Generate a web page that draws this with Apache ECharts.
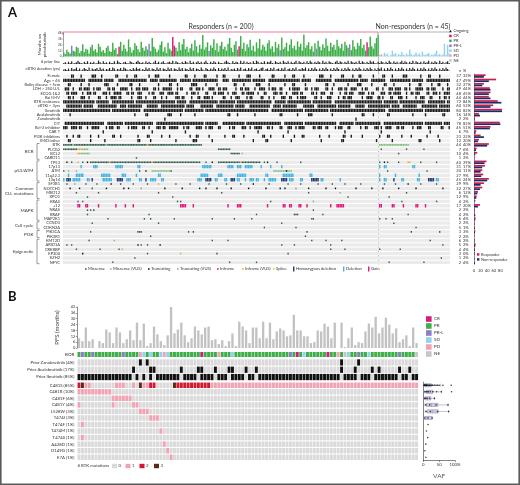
<!DOCTYPE html>
<html>
<head>
<meta charset="utf-8">
<script src="https://cdn.jsdelivr.net/npm/echarts@6.0.0/dist/echarts.min.js"></script>
<style>
  html, body { margin: 0; padding: 0; background: #fff; }
  #chart { width: 520px; height: 485px; }
</style>
</head>
<body>
<div id="chart"></div>
<script>
const FONT = 'Lato, "Open Sans", sans-serif'
const TXT = '#333'

// ---------- panel A data ----------
const N_A = 245
const N_RESP = 200
const colsA = Array.from({ length: N_A }, (_, i) => String(i))

// months on pirtobrutinib (responders first, then non-responders)
const monthsResp = [
  8, 5, 14, 9, 6, 22, 12, 10, 20, 18, 7, 11, 25, 9, 16, 14, 6, 19, 24, 12,
  15, 8, 26, 20, 10, 13, 7, 18, 22, 11, 9, 28, 14, 17, 5, 20, 30, 12, 24, 16,
  10, 35, 19, 8, 13, 27, 22, 15, 9, 30, 18, 12, 21, 14, 26, 11, 38, 20, 16, 9,
  14, 24, 31, 10, 19, 7, 28, 16, 12, 40, 22, 18, 11, 29, 13, 25, 36, 15, 20, 9,
  17, 26, 12, 33, 21, 8, 24, 16, 44, 14, 19, 29, 11, 23, 18, 35, 13, 27, 10, 22,
  30, 15, 20, 12, 26, 38, 18, 9, 24, 31, 14, 21, 42, 16, 28, 11, 25, 19, 34, 13,
  22, 10, 29, 17, 36, 14, 24, 20, 12, 27, 33, 16, 21, 9, 30, 18, 25, 13, 39, 15,
  19, 28, 11, 24, 35, 17, 22, 14, 31, 20, 26, 12, 45, 18, 23, 29, 15, 21, 10, 27,
  16, 32, 20, 13, 25, 18, 37, 22, 11, 28, 19, 24, 14, 34, 21, 17, 26, 12, 30, 23,
  18, 25, 13, 33, 20, 15, 28, 22, 36, 17, 24, 12, 29, 19, 41, 21, 16, 27, 38, 44
]
const monthsNonResp = [
  3, 5, 2, 8, 4, 6, 1, 3, 12, 4, 7, 2, 5, 3, 9, 4, 2, 6, 3, 14,
  5, 2, 4, 8, 3, 6, 2, 10, 4, 3, 5, 7, 2, 4, 3, 6, 12, 3, 5, 2, 4, 26, 3, 24, 6
]
// best overall response exceptions (default: PR for responders, SD for non-responders)
const borA_CR = [35, 69, 70, 111, 192]
const borA_PRL = [5, 54, 92, 137, 160, 181]
const borA_PD = [201, 216, 240]
const borA_NE = [228]

// # prior lines and cBTKi duration, one digit per patient
const priorLinesA = '23142512363214251324126315231422516321342153214632' +
  '31524213624135213426153214253162413524136214253142' +
  '21463215243162514231526413251436215324163251423615' +
  '32415263142531624153214625314261532416253142635214' +
  '25314263152413625314261532415236142531624135213426'
const cbtkiYearsA = '34251634725136427153462735143627514362753142637451' +
  '42736154273615427361542736154273615427316425374162' +
  '53627143526371452637145236714526371452637145263714' +
  '36471526374152637415263741526374152637415263741526' +
  '47152637415263741526374152637415263741526374152637'

const clinRows = ['Female', 'Age > 65', 'Bulky disease > 5cm', 'LDH > 250 U/L', 'ECOG 1&2', 'Rai III-IV',
  'BTK resistance', 'cBTKi > 3yrs', 'Ibrutinib', 'Acalabrutinib', 'Zanubrutinib', 'CIT',
  'Bcl-2 inhibitor', 'CAR T', 'PI3K inhibitors', 'IMiD/other']
// alternating run lengths: gap, mark, gap, mark ...
const clinRuns = [
  '5,2,4,1,6,3,3,1,8,2,5,1,4,2,7,1,3,3,6,1,9,2,4,1,5,2,6,1,3,2,8,1,4,3,5,1,7,2,6,1,4,2,5,1,9,3,4,1,6,2,5,1,3,2,7,1,5,2,4,1,6,3,8,1,4,2,5,1,7,2',
  '0,14,2,9,1,6,3,18,2,5,1,11,2,7,1,16,3,4,2,12,1,8,2,20,1,6,3,10,2,15,1,5,2,9,3,13,1,7,2,17,1,4,2,11,3,8',
  '3,2,6,1,4,1,9,3,5,1,7,2,4,1,11,1,6,2,3,1,8,4,5,1,6,1,10,2,4,1,7,3,5,1,9,1,4,2,6,1,12,2,3,1,8,1,5,3,6,1,7,2,4,1,9,1,5,2,6,1,3,2,4,1',
  '1,3,2,1,3,2,1,4,2,1,1,3,4,2,1,2,3,5,2,1,2,3,1,4,3,2,1,1,2,6,3,1,1,2,4,2,2,3,1,1,3,4,2,2,1,3,5,1,2,2,1,3,3,1,2,4,2,1,1,3,2,2,4,1,1,5,3,2,2,1,1,3,4,2,2,1,3,3,1,2,2,4,3,1,1,2,5,2,2,1,3,3,1,4,2,2,1,1,3,5,2,2,1,3,4,1,2,2,3,2',
  '2,2,1,4,3,1,2,3,1,2,4,3,1,1,2,5,3,2,1,2,2,3,4,1,1,2,3,3,2,4,1,2,5,1,2,3,1,1,4,2,3,2,1,4,2,1,2,3,3,2,1,5,2,1,3,2,4,3,1,2,2,1,3,4,1,2,5,2,1,1,2,3,3,2,4,1,2,2,1,3,3,4,2,1,1,2,4,3,2,2,1,5,3,1,2,2,1,3,4,2,2,3,1,1,2,4,3,2',
  '3,2,1,1,4,3,2,1,5,2,3,1,2,4,1,2,6,1,3,3,2,1,4,2,3,1,2,1,5,3,1,2,4,1,3,2,2,4,1,1,6,2,3,1,2,3,4,1,1,2,5,2,3,1,2,1,4,3,2,2,3,1,1,4,5,2,2,1,3,3,4,1,2,2,1,3,6,1,2,4,3,2,1,1,4,2,3,3,2,1,5,1,2,3,3,2,4,1,2,2,1,4,3,1',
  '0,20,1,8,2,14,1,25,1,6,2,18,1,10,1,22,2,7,1,15,1,12,2,30,1,9,1,16,2,11,1,10',
  '2,10,1,6,3,12,2,4,1,9,3,7,2,15,1,5,4,8,2,11,1,6,3,13,2,5,1,9,4,7,2,12,1,8,3,6,2,14,1,5,2,9,3,10,1,8,2,6',
  '0,30,1,18,2,25,1,12,1,40,2,20,1,15,1,35,2,22,1,16,1,28',
  '4,1,40,1,6,2,12,3,5,1,8,1,20,2,4,1,10,1,15,2,9,1,6,3,12,1,18,2,5,1,8,2,14,1,7,1,10,2,6,1',
  '64,1,120,1,100',
  '1,25,2,10,1,18,2,30,1,8,3,14,1,22,2,12,1,20,2,9,1,16,2,25,1,11,1,15',
  '0,3,2,4,1,2,3,1,2,5,4,1,1,3,2,2,5,1,1,4,3,2,2,1,4,3,1,2,2,6,3,1,1,2,4,4,2,1,1,3,3,2,5,1,1,2,4,3,2,1,2,5,3,2,1,1,4,2,3,3,2,1,1,4,5,2,1,3,2,2,4,1,1,3,3,2,6,1,2,2,4,3,1,1,2,4,3,2,1,2,5,1,2,3,4,2,6,2,3,3',
  '25,1,30,1,20,1,45,1,18,1,35,1,22,1,30,1,20',
  '2,1,3,1,2,2,6,1,4,1,8,2,3,1,10,1,5,2,7,1,4,1,12,1,3,2,6,1,9,1,4,2,5,1,11,2,3,1,7,1,6,1,4,2,9,1,5,1,8,2,3,1,6,1,10,1,4,2,7,1,5,1,9,1,6,1,8',
  '3,2,12,1,8,1,20,2,6,1,15,1,10,3,9,1,25,1,7,2,14,1,18,1,12,2,20,1,9,1,16,2,11,1,8,1'
]

const geneRows = ['BTK', 'PLCG2', 'BCL2', 'CARD11', 'TP53', '17p13', 'ATM', '11q22.3', '13q14', 'SF3B1', 'NOTCH1',
  'MED12', 'XPO1', 'KRAS', '+12', 'NRAS', 'BRAF', 'MAP2K1', 'CCND3', 'CDKN2A', 'PIK3CA', 'PIK3R1',
  'KMT2D', 'ARID1A', 'CREBBP', 'EP300', 'EZH2', 'NFYC']
// events: start:length:type  (m missense, v missense VUS, t truncating, u truncating VUS,
// i inframe, f inframe VUS, s splice, H homozygous deletion, D deletion, G gain)
const geneEvents = [
  '0:6:m 6:1:v 7:20:m 27:1:v 28:25:m 53:1:f 54:34:m 200:19:v',
  '0:9:m 9:4:f 13:3:v 98:8:m 201:1:m 217:1:m 228:1:m',
  '9:2:f 11:6:v 106:6:m 113:1:v 212:1:m',
  '46:1:m',
  '2:1:t 5:1:m 9:1:f 12:1:m 15:1:t 17:12:m 29:1:f 30:26:m 56:1:f 57:30:m 90:1:m 94:1:t 98:14:m 112:1:f 113:12:m 127:1:m 129:1:t 135:1:m 150:1:m 200:1:m 203:1:t 205:1:m 212:1:m 218:2:f 226:1:m 236:1:m',
  '11:1:D 19:3:D 33:5:D 47:2:D 88:6:D 104:4:D 110:3:D 115:5:D 125:1:D 131:1:D 138:1:D 200:1:D 203:2:D 221:2:D',
  '0:1:m 3:1:v 8:1:v 48:1:m 52:1:t 56:12:v 68:1:m 133:12:v 141:1:t 205:1:m 230:1:m',
  '3:1:D 8:5:D 24:6:D 37:3:D 46:1:D 60:2:D 87:5:D 98:3:D 110:6:D 128:2:D 139:7:D 156:2:D 200:1:D 210:1:D 225:1:D',
  '0:1:D 2:3:H 6:5:D 15:2:D 18:1:H 25:6:D 34:4:H 40:3:D 48:2:D 52:1:H 55:4:D 62:2:D 85:3:D 90:4:H 96:2:D 102:2:D 106:3:H 110:2:D 115:1:D 118:3:D 122:2:D 127:1:D 130:5:D 138:4:H 143:3:D 150:2:D 157:5:H 163:2:D 175:1:D 200:1:D 203:2:D 209:1:H 214:2:D 224:2:D 231:4:H 236:2:D',
  '2:1:m 7:1:u 14:1:m 21:1:m 30:1:t 36:1:m 44:1:m 53:1:m 60:1:f 71:1:m 80:1:m 92:1:m 103:1:m 112:1:m 120:1:t 130:1:m 142:1:m 150:1:m 161:1:m 170:1:m 178:1:m 188:1:m 203:1:m 210:1:m 218:1:t 226:1:m 236:1:m',
  '4:1:t 10:1:t 18:1:m 27:1:t 38:1:t 41:1:t 49:1:u 64:1:t 75:1:t 86:1:t 90:1:t 97:1:t 106:1:t 117:1:t 128:1:t 137:1:t 140:1:t 147:1:u 155:1:t 166:1:t 172:1:t 185:1:t 195:1:t 202:1:t 212:1:t 223:1:t 240:1:t',
  '8:1:m 22:1:m 60:1:m 100:1:m 155:1:m 175:1:u 217:1:m',
  '15:1:m 69:1:m 180:1:m 206:1:m',
  '9:1:m 12:1:m 72:1:m 74:1:m 131:1:m 158:1:u 214:1:m 236:1:m',
  '9:2:G 14:2:G 22:1:G 33:1:G 39:1:G 44:1:G 74:4:G 82:1:G 104:1:G 110:3:G 129:1:G 139:2:G 143:2:G 149:2:G 154:1:G 169:1:G 173:5:G 200:2:G 208:2:G 215:1:G 223:2:G 229:1:G',
  '15:1:m 17:1:m 19:1:m 158:1:m',
  '15:1:m 54:1:m 122:1:m 146:3:m 164:1:m 218:1:m',
  '28:1:m 51:1:m 55:1:m 70:1:m 94:1:m 108:1:m 119:1:m 157:2:m 200:1:m 204:1:m 208:1:m',
  '18:1:m 60:1:m 138:1:m 209:1:m',
  '127:1:m 147:1:m 223:1:m',
  '17:1:m 47:3:m 79:1:m 82:1:m 154:1:m 220:1:m 238:1:m',
  '55:1:m 153:1:m',
  '16:1:m 32:1:v 94:1:m 104:1:m 157:1:m 166:1:m 176:1:m 232:1:m',
  '2:1:m 5:1:m 47:1:t 49:1:m 53:1:m 61:1:t 138:1:m 146:1:m 169:1:m 240:1:m',
  '8:1:m 23:1:m 35:1:m 37:1:f 169:1:m 178:1:m 200:1:m 213:1:m',
  '12:1:t 53:1:m 74:1:f 97:1:m 142:1:m',
  '45:1:m 239:1:m',
  '31:1:m 105:1:m 122:1:m 206:1:m 228:1:m'
]

// n and % column, responder / non-responder percentages for the right bar chart
const clinN = ['37', '47', '32', '49', '48', '44', '72', '60', '80', '16', '2', '78', '45', '6', '23', '12']
const clinPct = ['32%', '49%', '27%', '44%', '45%', '44%', '84%', '52%', '82%', '14%', '2%', '82%', '51%', '7%', '22%', '20%']
const geneN = ['44', '7', '10', '1', '40', '31', '20', '27', '45', '29', '22', '6', '12', '4', '17', '2', '4', '6', '2', '5', '3', '2', '6', '5', '4', '3', '1', '2']
const genePct = ['40%', '6%', '4%', '2%', '29%', '17%', '11%', '9%', '24%', '9%', '27%', '12%', '9%', '2%', '20%', '2%', '2%', '4%', '2%', '1%', '3%', '2%', '2%', '2%', '4%', '0%', '2%', '4%']
const clinResp = [35, 67, 30, 48, 50, 45, 72, 58, 85, 15, 3, 78, 50, 7, 20, 15]
const clinNonResp = [30, 45, 25, 50, 45, 50, 83, 50, 85, 18, 2, 80, 48, 5, 30, 12]
const geneResp = [45, 8, 10, 2, 38, 33, 25, 28, 45, 30, 25, 12, 8, 4, 18, 3, 3, 5, 2, 2, 4, 2, 3, 5, 3, 3, 1, 2]
const geneNonResp = [40, 6, 4, 1, 32, 25, 20, 22, 40, 20, 18, 10, 7, 1, 12, 2, 4, 4, 2, 3, 3, 1, 2, 4, 3, 2, 2, 3]

// ---------- panel B data ----------
const N_B = 100
const colsB = Array.from({ length: N_B }, (_, i) => String(i))
const pfsMonths = [
  10, 7, 21, 7, 9, 0, 7, 5, 19, 16, 5, 21, 16, 5, 9, 18, 8, 26, 8, 25, 2, 5, 22, 14, 7, 3, 13, 45,
  15, 19, 26, 13, 6, 10, 22, 18, 14, 21, 22, 8, 9, 4, 8, 2, 7, 15, 2, 27, 22, 18, 5, 21, 21,
  10, 27, 10, 26, 9, 17, 20, 18, 12, 13, 34, 18, 18, 12, 12, 5, 6, 18, 17, 25, 22, 10, 26, 0,
  26, 1, 10, 21, 3, 6, 5, 17, 25, 21, 32, 15, 21, 31, 24, 15, 20, 6, 9, 13, 2, 21, 5
]
const borB_CR = [36, 64, 73]
const borB_PRL = [1, 4, 13, 62, 82, 94]
const borB_SD = [19, 21, 24, 26, 45, 66, 79, 85]
const borB_PD = [18, 25, 41, 76]
const borB_NE = [78, 99]

const priorRows = ['Prior Zanubrutinib (4%)', 'Prior Acalabrutinib (17%)', 'Prior Ibrutinib (85%)']
const priorZanu = [18, 20, 77, 82]
const priorAcala = [16, 21, 22, 30, 35, 36, 40, 44, 45, 49, 52, 77, 81, 86, 88, 94, 97]
const noPriorIbru = [16, 18, 20, 22, 30, 35, 40, 44, 49, 52, 77, 82, 86, 94, 97]

const mutRows = ['C481S (85%)', 'C481R (10%)', 'C481F (6%)', 'C481Y (4%)', 'L528W (3%)', 'T474I (3%)',
  'T474F (1%)', 'T474M (1%)', 'T474S (1%)', 'A428D (1%)', 'D149G (1%)', 'E7A (1%)']
const c481sAbsent = [4, 5, 6, 7, 8, 9, 10, 14, 15, 17, 23, 24, 25, 26, 27]
const twoMutCols = [0, 21, 22, 29, 30, 31, 32, 33, 34, 35, 36, 37, 38]
const threeMutCols = [1, 18, 28]
const otherMutCols = [
  [0, 1, 2, 3, 4, 5, 6, 7, 8, 9],
  [10, 11, 12, 13, 14, 15],
  [0, 10, 16, 17],
  [18, 19, 20],
  [21, 22, 23],
  [1], [24], [1], [25], [26], [27]
]
// VAF boxes [min, q1, median, q3, max] and points, %
const vafBox = [[1, 4, 10, 25, 55], [4, 9, 16, 30, 57], [3, 6, 12, 24, 35], [5, 10, 26, 46, 78], [6, 12, 28, 47, 80], [3, 5, 12, 27, 28]]
const vafPoints = [
  [2, 3, 4, 5, 6, 7, 8, 9, 10, 12, 14, 15, 18, 20, 22, 25, 28, 30, 35, 40, 45, 50, 62, 88],
  [5, 9, 12, 16, 22, 30, 42, 57, 89],
  [4, 8, 12, 20, 35],
  [8, 20, 40, 78],
  [9, 22, 45, 80],
  [5, 15, 28],
  [15], [10], [14], [8], [5], [8]
]

// ---------- colours ----------
const borColor = { CR: '#d81b7a', PR: '#3daf48', 'PR-L': '#8c7dc6', SD: '#92d2ec', PD: '#f2a2b6', NE: '#c6c6c6' }
const mutTypes = ['m', 'v', 't', 'u', 'i', 'f', 's', 'H', 'D', 'G']
const mutColor = ['#2f5a48', '#78c07a', '#111111', '#9a9a9a', '#c2185b', '#f2a03d', '#f1c62a', '#1f3c78', '#45b3e0', '#e2157c']
const mutCellColor = ['#dadada', '#f2a3b3', '#d3172f', '#5b2a14']

// ---------- layout ----------
const A_LEFT = 63
const A_W = 387
const CLIN_TOP = 73.9
const CLIN_H = 16 * 4.3
const GENE_TOP = CLIN_TOP + CLIN_H
const GENE_PITCH = 4.35
const GENE_H = 28 * GENE_PITCH
const BAR_LEFT = 474
const BAR_W = 33
const B_LEFT = 77.3
const B_W = 341
const MUT_TOP = 382
const MUT_H = 78.5

function borOfA (i) {
  if (borA_CR.includes(i)) return 'CR'
  if (borA_PRL.includes(i)) return 'PR-L'
  if (borA_PD.includes(i)) return 'PD'
  if (borA_NE.includes(i)) return 'NE'
  return i < N_RESP ? 'PR' : 'SD'
}
function borOfB (i) {
  if (borB_CR.includes(i)) return 'CR'
  if (borB_PRL.includes(i)) return 'PR-L'
  if (borB_SD.includes(i)) return 'SD'
  if (borB_PD.includes(i)) return 'PD'
  if (borB_NE.includes(i)) return 'NE'
  return 'PR'
}
function runsToCols (runs) {
  const out = []
  let pos = 0
  let mark = false
  runs.split(',').map(Number).forEach(n => {
    if (mark) for (let k = 0; k < n; k++) if (pos + k < N_A) out.push(pos + k)
    pos += n
    mark = !mark
  })
  return out
}

// build series data
const monthsOnPirto = monthsResp.concat(monthsNonResp)
const topBars = monthsOnPirto.map((v, i) => ({ value: v, itemStyle: { color: borColor[borOfA(i)] } }))
const priorBars = priorLinesA.slice(0, N_A).split('').map(Number)
const durBars = cbtkiYearsA.slice(0, N_A).split('').map(Number)

const clinMarks = []
clinRuns.forEach((r, row) => runsToCols(r).forEach(c => clinMarks.push([c, row])))
const geneMarks = []
geneEvents.forEach((s, row) => {
  s.split(' ').forEach(ev => {
    const [st, len, t] = ev.split(':')
    for (let k = 0; k < Number(len); k++) {
      const c = Number(st) + k
      if (c < N_A) geneMarks.push([c, row, mutTypes.indexOf(t)])
    }
  })
})

const borBCells = colsB.map((_, i) => [i, 0, borOfB(i)])
const priorCells = []
for (let i = 0; i < N_B; i++) {
  priorCells.push([i, 0, priorZanu.includes(i) ? 1 : 0])
  priorCells.push([i, 1, priorAcala.includes(i) ? 1 : 0])
  priorCells.push([i, 2, noPriorIbru.includes(i) ? 0 : 1])
}
const mutCells = []
for (let i = 0; i < N_B; i++) {
  let c0 = 0
  if (!c481sAbsent.includes(i)) c0 = threeMutCols.includes(i) ? 3 : (twoMutCols.includes(i) ? 2 : 1)
  mutCells.push([i, 0, c0])
  otherMutCols.forEach((cols, r) => mutCells.push([i, r + 1, cols.includes(i) ? 1 : 0]))
}
const vafScatter = []
vafPoints.forEach((pts, r) => pts.forEach(v => vafScatter.push([v, r])))

// ---------- render helpers ----------
function laneRender (hFrac, fill) {
  return function (params, api) {
    const r = api.value(1)
    const a = api.coord([0, r])
    const b = api.coord([api.value(0), r])
    const s = api.size([1, 1])
    const h = s[1] * hFrac
    return { type: 'rect', shape: { x: a[0] - s[0] / 2, y: a[1] - h / 2, width: b[0] - a[0] + s[0], height: h }, style: { fill } }
  }
}
function cellRender (wFrac, hFrac, fillFn) {
  return function (params, api) {
    const p = api.coord([api.value(0), api.value(1)])
    const s = api.size([1, 1])
    const w = s[0] * wFrac
    const h = s[1] * hFrac
    return { type: 'rect', shape: { x: p[0] - w / 2, y: p[1] - h / 2, width: w, height: h }, style: { fill: fillFn(api, params) } }
  }
}
function geneRender (params, api) {
  const t = api.value(2)
  const p = api.coord([api.value(0), api.value(1)])
  const s = api.size([1, 1])
  const cnv = t >= 7
  const w = s[0] * (cnv ? 0.9 : 0.85)
  const h = s[1] * (cnv ? 0.8 : 0.36)
  return { type: 'rect', shape: { x: p[0] - w / 2, y: p[1] - h / 2, width: w, height: h }, style: { fill: mutColor[t] } }
}

function grid (left, top, width, height) {
  return { left, top, width, height, containLabel: false }
}
function catX (gi, data) {
  return { gridIndex: gi, type: 'category', data, show: false }
}
function rowAxis (gi, data, fontSize, showLabel) {
  return {
    gridIndex: gi,
    type: 'category',
    data,
    inverse: true,
    axisLine: { show: false },
    axisTick: { show: false },
    splitLine: { show: false },
    axisLabel: { show: showLabel, interval: 0, fontSize, margin: 3, color: TXT, fontFamily: FONT }
  }
}
function sideText (gi, data, labels, margin, align) {
  return {
    gridIndex: gi,
    type: 'category',
    data,
    inverse: true,
    position: 'right',
    axisLine: { show: false },
    axisTick: { show: false },
    axisLabel: { interval: 0, fontSize: 4, margin, align, color: TXT, fontFamily: FONT, formatter: (v, i) => labels[i] }
  }
}

// ---------- graphic annotations ----------
const G = []
function txt (x, y, s, o) {
  G.push({ type: 'text', x, y, silent: true, style: Object.assign({ text: s, fill: TXT, font: '4.5px ' + FONT, textAlign: 'left', textVerticalAlign: 'middle' }, o || {}) })
}
function line (pts, stroke, w) {
  G.push({ type: 'polyline', silent: true, shape: { points: pts }, style: { stroke, lineWidth: w || 0.6, fill: null } })
}
function box (x, y, w, h, fill) {
  G.push({ type: 'rect', silent: true, shape: { x, y, width: w, height: h }, style: { fill } })
}

// frame
G.push({ type: 'rect', silent: true, shape: { x: 0.8, y: 0.8, width: 518.4, height: 483.4 }, style: { fill: null, stroke: '#5a5a5a', lineWidth: 1.6 } })
txt(8, 13, 'A', { font: 'bold 13px ' + FONT, fill: '#111' })
txt(8, 297, 'B', { font: 'bold 13px ' + FONT, fill: '#111' })

// responder / non-responder headers
txt(221, 26.5, 'Responders (n = 200)', { font: '7px ' + FONT, textAlign: 'center' })
txt(413, 26.5, 'Non-responders (n = 45)', { font: '7px ' + FONT, textAlign: 'center' })
line([[A_LEFT, 35], [A_LEFT, 32], [378, 32], [378, 35]], '#d9476d', 0.7)
line([[378.5, 32], [450, 32]], '#8094b0', 0.7)
// separator responders | non-responders
line([[378.6, 57], [378.6, GENE_TOP + GENE_H]], '#9a9a9a', 0.7)

// top-right legend
const topLegend = [['Ongoing', '#111'], ['CR', borColor.CR], ['PR', borColor.PR], ['PR-L', borColor['PR-L']], ['SD', borColor.SD], ['PD', borColor.PD], ['NE', borColor.NE]]
topLegend.forEach((d, i) => {
  const y = 31 + i * 4.9
  if (i === 0) G.push({ type: 'polygon', silent: true, shape: { points: [[449.2, y + 1.3], [451.8, y + 1.3], [450.5, y - 1.3]] }, style: { fill: '#111' } })
  else box(449.2, y - 1.2, 2.5, 2.5, d[1])
  txt(453.5, y, d[0], { font: '4px ' + FONT })
})

txt(60, 62, '# prior line', { font: '4px ' + FONT, textAlign: 'right' })
txt(60, 69, 'cBTKi duration (yrs)', { font: '4px ' + FONT, textAlign: 'right' })
txt(461, 70.5, 'n', { font: '4px ' + FONT, textAlign: 'right' })
txt(463, 70.5, '%', { font: '4px ' + FONT })

// gene groups with brackets
const groups = [['BCR', 0, 4], ['p53/ATM', 4, 9], ['Common\nCLL mutations', 9, 13], ['MAPK', 13, 18], ['Cell cycle', 18, 20], ['PI3K', 20, 22], ['Epigenetic', 22, 28]]
groups.forEach(([name, a, b]) => {
  const y0 = GENE_TOP + a * GENE_PITCH + 0.8
  const y1 = GENE_TOP + b * GENE_PITCH - 0.8
  line([[39.5, y0], [37, y0], [37, y1], [39.5, y1]], '#555', 0.6)
  txt(33.5, (y0 + y1) / 2, name, { font: '4.5px ' + FONT, textAlign: 'right', lineHeight: 5 })
})

// mutation legend row
const mutLegend = [['Missense', 0, 85], ['Missense (VUS)', 1, 110], ['Truncating', 2, 148], ['Truncating (VUS)', 3, 177], ['Inframe', 4, 217],
  ['Inframe (VUS)', 5, 242], ['Splice', 6, 273], ['Homozygous deletion', 7, 293], ['Deletion', 8, 343], ['Gain', 9, 368]]
mutLegend.forEach(([name, t, x]) => {
  if (t >= 7) box(x, 266.5, 1.4, 5, mutColor[t])
  else box(x, 268.2, 1.6, 1.6, mutColor[t])
  txt(x + 3, 269, name, { font: '4.2px ' + FONT })
})

// responder bar legend
box(477, 253.2, 2.4, 2.4, '#c81e4a')
txt(481, 254.4, 'Responder', { font: '4px ' + FONT })
box(477, 258.2, 2.4, 2.4, '#1c2a6b')
txt(481, 259.4, 'Non-responder', { font: '4px ' + FONT })

// panel B: BOR legend
const borLegend = ['CR', 'PR', 'PR-L', 'SD', 'PD', 'NE']
borLegend.forEach((k, i) => {
  const y = 319 + i * 7
  box(426, y - 2.8, 5.6, 5.6, borColor[k])
  txt(434, y, k, { font: '4.5px ' + FONT })
})
// # BTK mutations legend
txt(77.5, 466, '# BTK mutations', { font: '4.3px ' + FONT })
;[[112, 0, '0'], [125.5, 1, '1'], [139.5, 2, '2'], [154, 3, '3']].forEach(([x, c, s]) => {
  box(x, 463.8, 5, 4.4, mutCellColor[c])
  txt(x + 6.5, 466, s, { font: '4.3px ' + FONT })
})

// ---------- option ----------
const chart = echarts.init(document.getElementById('chart'), null, { renderer: 'canvas' })
const axisTextStyle = { color: TXT, fontFamily: FONT }

const option = {
  animation: false,
  backgroundColor: '#fff',
  textStyle: { fontFamily: FONT },
  grid: [
    grid(A_LEFT, 33, A_W, 23.5),
    grid(A_LEFT, 59.5, A_W, 4.5),
    grid(A_LEFT, 66.5, A_W, 4.5),
    grid(A_LEFT, CLIN_TOP, A_W, CLIN_H),
    grid(A_LEFT, GENE_TOP, A_W, GENE_H),
    grid(BAR_LEFT, CLIN_TOP, BAR_W, CLIN_H),
    grid(BAR_LEFT, GENE_TOP, BAR_W, GENE_H),
    grid(B_LEFT, 307, B_W, 41),
    grid(B_LEFT, 352, B_W, 5),
    grid(B_LEFT, 358.8, B_W, 21.9),
    grid(B_LEFT, MUT_TOP, B_W, MUT_H),
    grid(423.3, MUT_TOP, 31.7, MUT_H)
  ],
  xAxis: [
    catX(0, colsA), catX(1, colsA), catX(2, colsA), catX(3, colsA), catX(4, colsA),
    { gridIndex: 5, type: 'value', min: 0, max: 100, show: false },
    {
      gridIndex: 6,
      type: 'value',
      min: 0,
      max: 100,
      interval: 20,
      axisLine: { show: false },
      axisTick: { show: false },
      splitLine: { show: false },
      axisLabel: Object.assign({ fontSize: 4, margin: 4, formatter: v => (v === 100 ? '100%' : String(v)) }, axisTextStyle)
    },
    catX(7, colsB), catX(8, colsB), catX(9, colsB), catX(10, colsB),
    {
      gridIndex: 11,
      type: 'value',
      min: 0,
      max: 100,
      interval: 50,
      axisLine: { show: true, lineStyle: { color: '#333', width: 0.6 } },
      axisTick: { show: true, length: 1.5, lineStyle: { color: '#333', width: 0.5 } },
      splitLine: { show: false },
      axisLabel: Object.assign({ fontSize: 4.3, margin: 2.5, formatter: v => (v === 100 ? '100%' : String(v)) }, axisTextStyle),
      name: 'VAF',
      nameLocation: 'middle',
      nameGap: 12,
      nameTextStyle: { fontSize: 6.5, color: '#555', fontFamily: FONT }
    }
  ],
  yAxis: [
    {
      gridIndex: 0,
      type: 'value',
      min: 0,
      max: 48,
      interval: 12,
      axisLine: { show: true, lineStyle: { color: '#444', width: 0.5 } },
      axisTick: { show: true, length: 1, lineStyle: { color: '#444', width: 0.4 } },
      splitLine: { show: false },
      axisLabel: Object.assign({ fontSize: 3, margin: 1.5 }, axisTextStyle),
      name: 'Months on\npirtobrutinib',
      nameLocation: 'middle',
      nameGap: 7,
      nameRotate: 90,
      nameTextStyle: { fontSize: 4.5, color: TXT, fontFamily: FONT, lineHeight: 5 }
    },
    { gridIndex: 1, type: 'value', min: 0, max: 8, show: false },
    { gridIndex: 2, type: 'value', min: 0, max: 9, show: false },
    rowAxis(3, clinRows, 4, true),
    rowAxis(4, geneRows, 4, true),
    Object.assign(rowAxis(5, clinRows, 4, false), { axisLine: { show: true, lineStyle: { color: '#555', width: 0.5 } } }),
    Object.assign(rowAxis(6, geneRows, 4, false), { axisLine: { show: true, lineStyle: { color: '#555', width: 0.5 } } }),
    {
      gridIndex: 7,
      type: 'value',
      min: 0,
      max: 42,
      interval: 6,
      axisLine: { show: true, lineStyle: { color: '#444', width: 0.6 } },
      axisTick: { show: true, length: 1.5, lineStyle: { color: '#444', width: 0.5 } },
      splitLine: { show: false },
      axisLabel: Object.assign({ fontSize: 4, margin: 2 }, axisTextStyle),
      name: 'PFS (months)',
      nameLocation: 'middle',
      nameGap: 10,
      nameRotate: 90,
      nameTextStyle: { fontSize: 6, color: '#444', fontFamily: FONT }
    },
    rowAxis(8, ['BOR'], 4.5, true),
    rowAxis(9, priorRows, 4.3, true),
    rowAxis(10, mutRows, 4.3, true),
    Object.assign(rowAxis(11, mutRows, 4, false), { axisLine: { show: true, lineStyle: { color: '#333', width: 0.6 } } }),
    sideText(3, clinRows, clinN, 11, 'right'),
    sideText(3, clinRows, clinPct, 13, 'left'),
    sideText(4, geneRows, geneN, 11, 'right'),
    sideText(4, geneRows, genePct, 13, 'left')
  ],
  series: [
    { type: 'bar', xAxisIndex: 0, yAxisIndex: 0, data: topBars, barWidth: 1.45, silent: true },
    { type: 'bar', xAxisIndex: 1, yAxisIndex: 1, data: priorBars, barWidth: 1.2, itemStyle: { color: '#222' }, silent: true },
    { type: 'bar', xAxisIndex: 2, yAxisIndex: 2, data: durBars, barWidth: 1.2, itemStyle: { color: '#222' }, silent: true },
    { type: 'custom', xAxisIndex: 3, yAxisIndex: 3, silent: true, data: clinRows.map((_, r) => [N_A - 1, r]), renderItem: laneRender(0.72, '#f1f1f1') },
    { type: 'custom', xAxisIndex: 3, yAxisIndex: 3, silent: true, data: clinMarks, renderItem: cellRender(0.86, 0.74, () => '#1a1a1a') },
    { type: 'custom', xAxisIndex: 4, yAxisIndex: 4, silent: true, data: geneRows.map((_, r) => [N_A - 1, r]), renderItem: laneRender(0.78, '#ebebeb') },
    { type: 'custom', xAxisIndex: 4, yAxisIndex: 4, silent: true, data: geneMarks, renderItem: geneRender },
    { type: 'bar', xAxisIndex: 5, yAxisIndex: 5, data: clinResp, barWidth: 1.7, barGap: '0%', itemStyle: { color: '#c81e4a' }, silent: true },
    { type: 'bar', xAxisIndex: 5, yAxisIndex: 5, data: clinNonResp, barWidth: 1.7, barGap: '0%', itemStyle: { color: '#1c2a6b' }, silent: true },
    { type: 'bar', xAxisIndex: 6, yAxisIndex: 6, data: geneResp, barWidth: 1.7, barGap: '0%', itemStyle: { color: '#c81e4a' }, silent: true },
    { type: 'bar', xAxisIndex: 6, yAxisIndex: 6, data: geneNonResp, barWidth: 1.7, barGap: '0%', itemStyle: { color: '#1c2a6b' }, silent: true },
    { type: 'bar', xAxisIndex: 7, yAxisIndex: 7, data: pfsMonths, barWidth: '68%', itemStyle: { color: '#c2c2c2' }, silent: true },
    { type: 'custom', xAxisIndex: 8, yAxisIndex: 8, silent: true, data: borBCells, renderItem: cellRender(0.86, 1, (api, p) => borColor[borBCells[p.dataIndex][2]]) },
    { type: 'custom', xAxisIndex: 9, yAxisIndex: 9, silent: true, data: priorCells, renderItem: cellRender(0.86, 0.86, api => (api.value(2) ? '#111' : '#dadada')) },
    { type: 'custom', xAxisIndex: 10, yAxisIndex: 10, silent: true, data: mutCells, renderItem: cellRender(0.86, 0.84, api => mutCellColor[api.value(2)]) },
    {
      type: 'boxplot',
      xAxisIndex: 11,
      yAxisIndex: 11,
      silent: true,
      data: vafBox,
      boxWidth: [3, 3.5],
      itemStyle: { color: '#cfcbe8', borderColor: '#8a86a8', borderWidth: 0.5 }
    },
    { type: 'scatter', xAxisIndex: 11, yAxisIndex: 11, silent: true, data: vafScatter, symbolSize: 1.6, itemStyle: { color: '#111' } }
  ],
  graphic: G
}
chart.setOption(option)
</script>
</body>
</html>
